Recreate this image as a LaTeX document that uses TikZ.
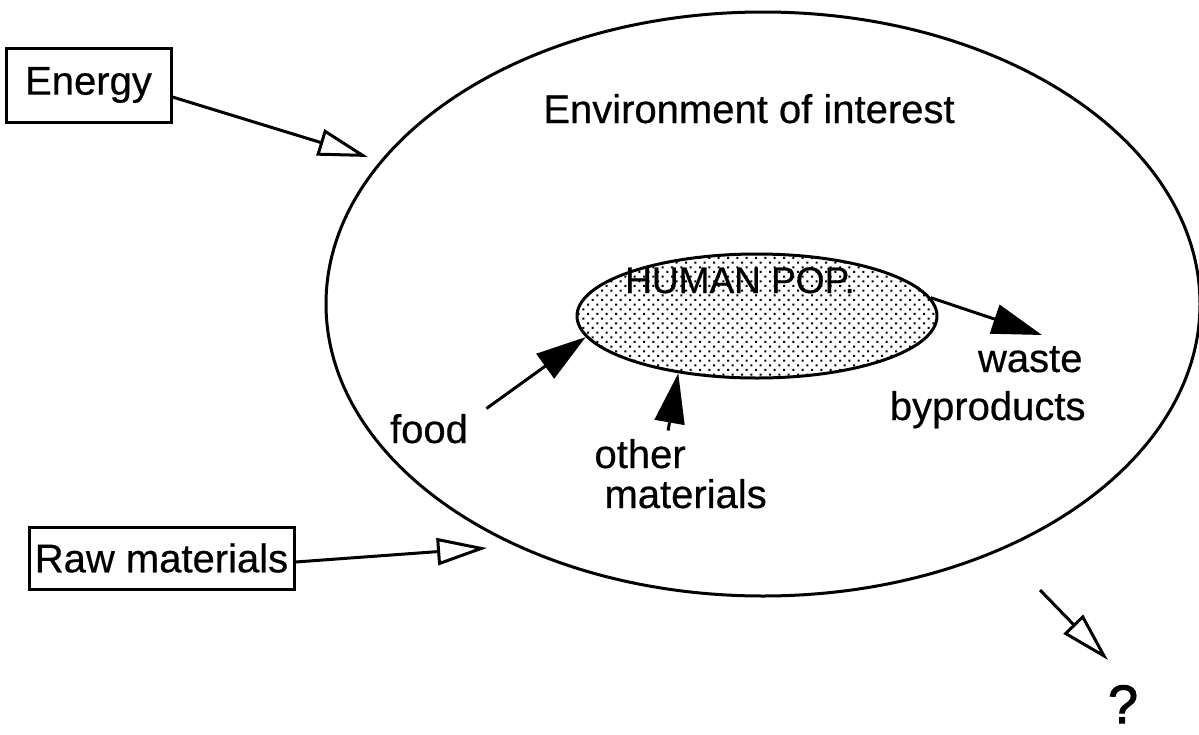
\documentclass[tikz,border=0pt]{standalone}
\usepackage{fontspec}
\setmainfont{Liberation Sans}[FakeBold=0.5,AutoFakeBold=2]
\usetikzlibrary{shapes.geometric,arrows.meta,patterns.meta}
\begin{document}
\begin{tikzpicture}[x=.5pt,y=-.5pt,line width=1.5pt,font=\fontsize{20}{22}\selectfont,
		box/.style={draw,inner sep=0pt,minimum height=37pt},
		lbl/.style={inner sep=0pt,anchor=base},
		open/.style={-{Triangle[open,length=25pt,width=13.5pt]}},
		feed/.style={-{Triangle[length=25pt,width=15pt]}}]
			\useasboundingbox (0,0) rectangle (1199,734);
			% environment and population
			\node[draw,ellipse,inner sep=0pt,minimum width=437pt,minimum height=292pt] (env) at (763,304) {};
			\node[draw,ellipse,inner sep=0pt,minimum width=180pt,minimum height=62pt,
				pattern={Dots[distance=3.3pt,radius=.7pt,angle=45]}] (pop) at (757,316) {};
			\node[lbl] (envlbl) at (749,123) {Environment of interest};
			\node[lbl,font=\fontsize{18.5}{20}\selectfont] (poplbl) at (740,293) {HUMAN POP.};
			% inputs from outside
			\node[box,minimum width=82.5pt] (energy) at (88.5,85) {Energy};
			\node[box,minimum width=132.5pt,minimum height=31pt] (raw) at (161.5,558) {Raw materials};
			\coordinate (energytip) at (368,157);
			\coordinate (rawtip) at (487,548);
			\draw[open] ([yshift=-6pt]energy.east)--(energytip);
			\draw[open] ([yshift=-2pt]raw.east)--(rawtip);
			% flows of the population
			\node[lbl] (food) at (429,443) {food};
			\node[lbl,anchor=base west] (other) at (593,468) {other};
			\node[lbl,anchor=base west] (mat) at (603,508) {materials};
			\node[lbl,anchor=base east] (waste) at (1084,372) {waste};
			\node[lbl,anchor=base east] (byprod) at (1087,420) {byproducts};
			\coordinate (wastetip) at (1042,335);
			\draw[feed] ([xshift=8.5pt,yshift=2pt]food.north east)--(pop.187);
			\draw[feed] ([xshift=14pt,yshift=3.5pt]other.north)--(pop.216);
			\draw[feed] (pop.6)--(wastetip);
			% output
			\coordinate (outtail) at (1040,590);
			\coordinate (outtip) at (1108,660);
			\draw[open] (outtail)--(outtip);
			\node[lbl,font=\fontsize{27}{30}\selectfont\bfseries] (q) at (1123,723) {?};
		\end{tikzpicture}
\end{document}
